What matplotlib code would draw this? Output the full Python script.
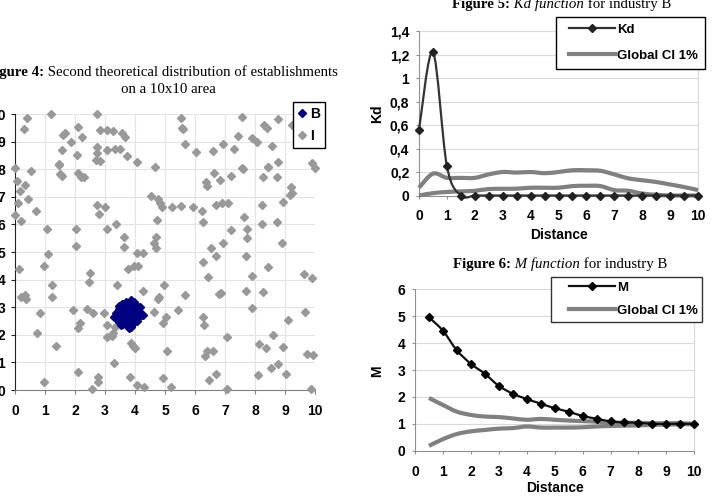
import numpy as np
import matplotlib
matplotlib.use('Agg')
import matplotlib.pyplot as plt
from matplotlib.path import Path
from matplotlib.patches import PathPatch
from matplotlib.lines import Line2D
from matplotlib.legend_handler import HandlerLine2D
from matplotlib.ticker import FuncFormatter

W, H = 720, 497

# Figure 4: establishments on the 10x10 area
industry_b = [
    (3.45, 3.05), (3.55, 3.12), (3.70, 3.20), (3.85, 3.25), (3.98, 3.18), (4.05, 3.05),
    (3.92, 3.10), (3.62, 3.00), (3.48, 2.92), (3.35, 2.80), (3.30, 2.65), (3.42, 2.55),
    (3.50, 2.70), (3.60, 2.85), (3.75, 3.00), (3.88, 2.95), (4.00, 2.92), (4.12, 2.88),
    (4.20, 2.75), (4.25, 2.70), (4.10, 2.60), (4.08, 2.50), (3.95, 2.80), (3.82, 2.82),
    (3.70, 2.72), (3.58, 2.60), (3.45, 2.45), (3.60, 2.40), (3.72, 2.35), (3.80, 2.25),
    (3.90, 2.38), (3.98, 2.45), (3.85, 2.55), (3.75, 2.55), (3.65, 2.50), (3.95, 2.65),
    (4.05, 2.75), (3.82, 2.68), (3.68, 2.88), (3.55, 2.95), (3.78, 3.10), (4.15, 3.00),
    (3.38, 2.62), (3.52, 2.35), (3.88, 2.30), (3.70, 2.45), (3.90, 3.05), (3.62, 3.12),
]

industry_i = [
    (0.41, 9.86), (1.20, 10.0), (2.74, 10.0), (0.31, 9.45), (1.60, 9.24), (1.65, 9.30),
    (2.11, 9.54), (1.86, 9.00), (2.22, 9.18), (1.58, 8.70), (2.06, 8.51), (2.74, 8.82),
    (2.72, 8.60), (2.70, 8.33), (2.83, 8.30), (2.83, 9.42), (3.06, 9.42), (3.28, 9.39),
    (3.56, 9.30), (3.67, 9.18), (3.06, 8.70), (3.33, 8.75), (3.50, 8.75), (3.72, 8.48),
    (4.06, 8.27), (4.66, 8.07), (1.46, 8.19), (5.52, 9.86), (5.56, 9.51), (5.61, 9.44),
    (5.67, 8.91), (6.02, 8.61), (6.61, 8.66), (6.94, 8.91), (7.31, 8.75), (7.42, 9.22),
    (7.58, 9.90), (7.89, 9.12), (8.06, 9.00), (8.30, 9.60), (8.39, 9.48), (8.56, 8.84),
    (8.76, 9.82), (9.22, 9.60), (7.56, 8.03), (8.42, 8.09), (9.89, 8.21), (10.0, 8.03),
    (0.00, 8.03), (0.53, 7.95), (1.48, 8.15), (1.50, 7.83), (1.56, 7.75), (2.11, 7.85),
    (2.20, 7.73), (2.31, 7.73), (0.06, 7.58), (0.17, 7.22), (0.33, 7.43), (0.11, 6.76),
    (0.44, 6.92), (0.69, 6.49), (0.00, 6.34), (0.20, 6.12), (1.06, 5.85), (2.03, 5.85),
    (2.03, 5.22), (1.11, 4.93), (0.98, 4.49), (0.13, 4.37), (1.24, 3.79), (1.24, 3.38),
    (0.19, 3.36), (0.33, 3.44), (0.37, 3.28), (0.83, 2.78), (0.72, 2.05), (2.74, 6.70),
    (3.01, 6.64), (2.79, 6.38), (3.08, 5.85), (3.36, 6.00), (3.64, 5.55), (3.64, 5.17),
    (4.06, 4.97), (4.26, 4.97), (3.98, 4.49), (4.11, 4.49), (3.76, 4.37), (2.50, 4.25),
    (2.48, 3.92), (3.39, 3.79), (4.26, 3.60), (1.94, 2.90), (2.39, 2.93), (2.61, 2.78),
    (2.98, 2.80), (2.17, 2.44), (2.11, 2.24), (3.08, 2.36), (3.33, 2.29), (3.06, 1.93),
    (3.22, 1.96), (3.28, 2.05), (4.52, 7.03), (4.76, 6.91), (4.83, 6.79), (4.89, 6.64),
    (4.72, 6.16), (4.70, 5.55), (4.63, 5.31), (4.70, 5.13), (5.24, 6.64), (5.52, 6.68),
    (5.92, 6.64), (6.22, 6.49), (6.26, 6.09), (6.36, 7.55), (6.41, 7.39), (6.64, 7.87),
    (6.83, 7.61), (7.19, 7.75), (7.59, 7.99), (6.70, 6.72), (6.89, 6.79), (7.09, 6.76),
    (7.64, 6.28), (7.72, 5.85), (7.72, 5.49), (7.20, 5.80), (6.92, 5.31), (6.52, 5.13),
    (6.70, 4.86), (7.70, 4.86), (6.26, 4.65), (6.44, 4.08), (7.89, 4.13), (7.70, 3.59),
    (8.28, 3.55), (8.42, 4.44), (6.81, 3.48), (6.87, 3.53), (5.67, 3.43), (4.98, 3.79),
    (4.76, 3.28), (4.81, 3.36), (5.44, 2.90), (4.64, 2.83), (5.02, 2.66), (4.94, 2.41),
    (6.26, 2.66), (6.31, 2.36), (7.91, 2.98), (7.06, 1.93), (8.59, 2.01), (9.11, 2.54),
    (9.67, 2.81), (9.64, 4.20), (9.89, 4.04), (8.22, 6.72), (8.24, 6.03), (8.72, 6.07),
    (8.89, 5.34), (8.94, 6.80), (9.17, 7.07), (9.22, 7.13), (9.19, 7.37), (8.26, 7.70),
    (8.44, 8.07), (8.72, 7.70), (8.78, 8.27), (1.37, 1.59), (0.98, 0.28), (2.11, 0.66),
    (2.58, 0.03), (2.78, 0.48), (2.78, 0.30), (3.31, 0.99), (3.87, 1.69), (3.94, 1.59),
    (4.00, 1.51), (3.83, 0.48), (4.06, 0.18), (4.30, 0.12), (4.92, 0.45), (5.19, 0.12),
    (5.08, 1.42), (6.33, 1.23), (6.41, 1.42), (6.61, 1.42), (6.46, 0.36), (6.69, 0.58),
    (7.06, 0.04), (8.11, 0.54), (8.14, 1.67), (8.36, 1.51), (8.92, 1.55), (8.78, 0.94),
    (8.52, 0.81), (9.02, 0.58), (9.74, 1.30), (9.94, 1.27), (9.86, 0.03),
]

# Figure 5: Kd function
kd_dist = np.arange(0, 10.5, 0.5)
kd = [0.56, 1.22, 0.25, 0, 0, 0, 0, 0, 0, 0, 0, 0, 0, 0, 0, 0, 0, 0, 0, 0, 0]
kd_ci_hi = [0.066, 0.186, 0.15, 0.15, 0.15, 0.18, 0.20, 0.195, 0.20, 0.19, 0.20,
            0.215, 0.215, 0.21, 0.18, 0.146, 0.13, 0.115, 0.094, 0.072, 0.046]
kd_ci_lo = [0.0, 0.02, 0.03, 0.035, 0.04, 0.055, 0.057, 0.058, 0.066, 0.066, 0.066,
            0.08, 0.083, 0.08, 0.046, 0.04, 0.017, 0.006, 0.0, 0.0, 0.0]

# Figure 6: M function
m_dist = np.arange(0.5, 10.5, 0.5)
m_val = [4.96, 4.46, 3.73, 3.23, 2.86, 2.41, 2.12, 1.92, 1.75, 1.58,
         1.45, 1.29, 1.19, 1.09, 1.05, 1.04, 1.0, 1.0, 1.0, 1.0]
m_ci_hi = [1.96, 1.70, 1.45, 1.33, 1.27, 1.25, 1.20, 1.15, 1.18, 1.15,
           1.12, 1.10, 1.08, 1.05, 1.04, 1.04, 1.02, 1.02, 1.02, 1.0]
m_ci_lo = [0.18, 0.43, 0.62, 0.72, 0.77, 0.82, 0.84, 0.90, 0.86, 0.86,
           0.86, 0.87, 0.90, 0.92, 0.93, 0.94, 0.96, 0.97, 0.98, 0.99]

GRAY = '#999999'
NAVY = '#000080'
CI = '#808080'
GRID = '#d9d9d9'
TITLE_SIZE = 10.7

plt.rcParams['font.family'] = 'Liberation Sans'
plt.rcParams['font.weight'] = 'bold'
plt.rcParams['font.size'] = 10


def smooth(x, y):
    # Excel style smoothed line as cubic Bezier segments
    pts = np.column_stack([x, y]).astype(float)
    n = len(pts)
    verts, codes = [pts[0]], [Path.MOVETO]
    for i in range(n - 1):
        p0 = pts[i - 1] if i > 0 else pts[i]
        p3 = pts[i + 2] if i + 2 < n else pts[i + 1]
        verts += [pts[i] + (pts[i + 1] - p0) / 6, pts[i + 1] - (p3 - pts[i]) / 6, pts[i + 1]]
        codes += [Path.CURVE4] * 3
    return Path(verts, codes)


def add_curve(ax, x, y, color, lw):
    ax.add_patch(PathPatch(smooth(x, y), fill=False, edgecolor=color, lw=lw,
                           clip_on=False, zorder=3))


def axes_px(l, t, r, b):
    return fig.add_axes([l / W, 1 - b / H, (r - l) / W, (b - t) / H])


def rich(ax, x, y, parts, size=TITLE_SIZE):
    styles = {'b': dict(weight='bold'), 'i': dict(style='italic', weight='normal'),
              'n': dict(weight='normal')}
    t = fig.text(x / W, 1 - y / H, parts[0][0], family='Liberation Serif', size=size,
                 va='baseline', ha='left', **styles[parts[0][1]])
    for s, st in parts[1:]:
        t = ax.annotate(s, xy=(1, 0), xycoords=t, va='bottom', ha='left',
                        family='Liberation Serif', size=size, annotation_clip=False,
                        **styles[st])
    return t


fig = plt.figure(figsize=(W / 100, H / 100), dpi=100)

# ---- left scatter
ax1 = axes_px(15, 114, 315, 390)
ix, iy = zip(*industry_i)
bx, by = zip(*industry_b)
ax1.plot(ix, iy, ls='', marker='D', ms=3.8, color=GRAY, clip_on=False, zorder=3)
ax1.plot(bx, by, ls='', marker='D', ms=3.8, color=NAVY, clip_on=False, zorder=4)
ax1.set_xlim(0, 10)
ax1.set_ylim(0, 10)
ax1.set_xticks(range(11))
ax1.set_yticks(range(11))
ax1.grid(True, color='#e3e3e3', lw=0.8)
ax1.set_axisbelow(True)
ax1.spines['top'].set_visible(False)
ax1.spines['right'].set_visible(False)
ax1.spines['left'].set_color('#222222')
ax1.spines['bottom'].set_color('#808080')
ax1.tick_params(axis='x', length=3, pad=7, color='#808080')
ax1.tick_params(axis='y', length=3, pad=4, color='#222222')

rich(ax1, -14, 76, [('Figure 4:', 'b'), (' Second theoretical distribution of establishments', 'n')])
fig.text(168 / W, 1 - 93 / H, 'on a 10x10 area', family='Liberation Serif', weight='normal',
         size=TITLE_SIZE, ha='center', va='baseline')

leg1 = fig.legend([Line2D([], [], ls='', marker='D', ms=4, color=NAVY),
                   Line2D([], [], ls='', marker='D', ms=4, color=GRAY)], ['B', 'I'],
                  loc='upper left', bbox_to_anchor=(293 / W, 1 - 102 / H), borderaxespad=0,
                  fancybox=False, edgecolor='black', framealpha=1, handlelength=0.6,
                  handletextpad=0.3, borderpad=0.35, labelspacing=0.6,
                  prop=dict(weight='bold', size=10))
leg1.get_frame().set_linewidth(1.0)

# ---- Kd function
ax2 = axes_px(419, 31, 698, 195.5)
for hi_lo in (kd_ci_hi, kd_ci_lo):
    add_curve(ax2, kd_dist, hi_lo, CI, 3)
add_curve(ax2, kd_dist, kd, '#333333', 1.6)
ax2.plot(kd_dist, kd, ls='', marker='D', ms=4.5, color='#222222', clip_on=False, zorder=4)
ax2.set_xlim(0, 10)
ax2.set_ylim(0, 1.4)
ax2.set_xticks(range(11))
ax2.set_yticks(np.arange(0, 1.41, 0.2))
ax2.yaxis.set_major_formatter(FuncFormatter(lambda v, p: f'{round(v, 1):g}'.replace('.', ',')))
ax2.set_ylabel('Kd', weight='bold', size=10)
ax2.yaxis.set_label_coords(-0.125, 0.5)
ax2.set_xlabel('Distance', weight='bold', size=10)
ax2.xaxis.set_label_coords(0.5, -0.2)

rich(ax2, 452, 8, [('Figure 5:', 'b'), (' Kd function', 'i'), (' for industry B', 'n')])

leg2 = fig.legend([Line2D([], [], color='#333333', lw=1.6, marker='D', ms=4.5, mfc='#222222', mec='#222222'),
                   Line2D([], [], color=CI, lw=3)], ['Kd', 'Global CI 1%'],
                  loc='upper left', bbox_to_anchor=(556 / W, 1 - 17 / H), borderaxespad=0,
                  fancybox=False, edgecolor='black', framealpha=1, handlelength=4.0,
                  handletextpad=0.15, borderpad=0.5, labelspacing=1.05,
                  handler_map={Line2D: HandlerLine2D(xpad=0.5)},
                  prop=dict(weight='bold', size=9.5))
leg2.get_frame().set_linewidth(1.0)

# ---- M function
ax3 = axes_px(415, 289.3, 694.3, 450.7)
for hi_lo in (m_ci_hi, m_ci_lo):
    add_curve(ax3, m_dist, hi_lo, CI, 3)
add_curve(ax3, m_dist, m_val, '#111111', 1.6)
ax3.plot(m_dist, m_val, ls='', marker='D', ms=4.5, color='black', clip_on=False, zorder=4)
ax3.set_xlim(0, 10)
ax3.set_ylim(0, 6)
ax3.set_xticks(range(11))
ax3.set_yticks(range(7))
ax3.set_ylabel('M', weight='bold', size=10)
ax3.yaxis.set_label_coords(-0.111, 0.49)
ax3.set_xlabel('Distance', weight='bold', size=10)
ax3.xaxis.set_label_coords(0.5, -0.185)

rich(ax3, 452.7, 267.7, [('Figure 6:', 'b'), (' M function', 'i'), (' for industry B', 'n')])

leg3 = fig.legend([Line2D([], [], color='#111111', lw=1.6, marker='D', ms=4.5, mfc='black', mec='black'),
                   Line2D([], [], color=CI, lw=3)], ['M', 'Global CI 1%'],
                  loc='upper left', bbox_to_anchor=(550.7 / W, 1 - 276.7 / H), borderaxespad=0,
                  fancybox=False, edgecolor='#333333', framealpha=1, handlelength=4.5,
                  handletextpad=0.15, borderpad=0.35, labelspacing=0.85,
                  handler_map={Line2D: HandlerLine2D(xpad=1.0)},
                  prop=dict(weight='bold', size=9.5))
leg3.get_frame().set_linewidth(1.0)

for ax in (ax2, ax3):
    ax.yaxis.grid(True, color=GRID, lw=0.8)
    ax.set_axisbelow(True)
    ax.spines['top'].set_visible(False)
    ax.spines['right'].set_color(GRID)
    ax.spines['left'].set_color('#909090')
    ax.spines['bottom'].set_color('#909090')
    ax.tick_params(axis='x', length=2, pad=8, color='#909090')
    ax.tick_params(axis='y', length=2, pad=5, color='#909090')

fig.savefig('out.png', dpi=100)
